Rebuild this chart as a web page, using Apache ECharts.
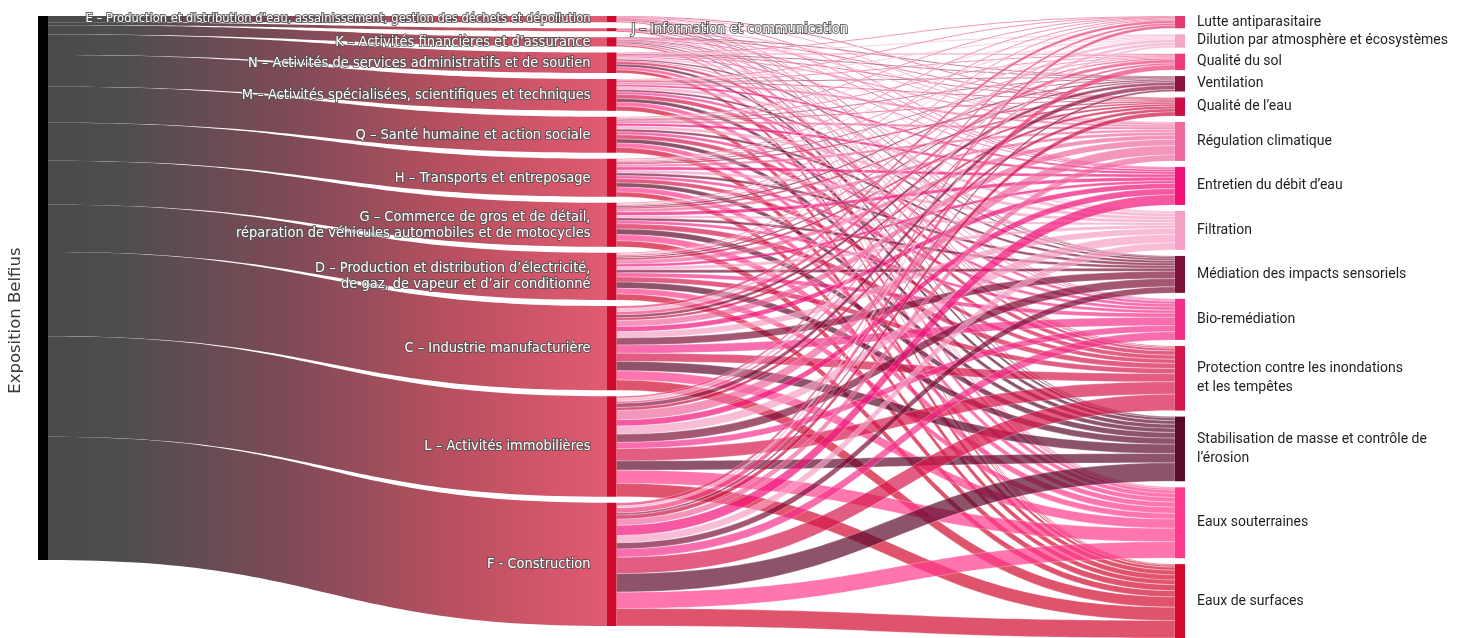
<!DOCTYPE html>
<html>
<head>
<meta charset="utf-8">
<script src="https://cdn.jsdelivr.net/npm/echarts@6/dist/echarts.min.js"></script>
<style>
  html, body { margin: 0; padding: 0; background: #fff; }
  #chart { width: 1474px; height: 638px; }
</style>
</head>
<body>
<div id="chart"></div>
<script>
// Root of the flow
const rootName = 'Exposition Belfius';

// Economic sectors (NACE sections), top to bottom
const sectors = [
  'E – Production et distribution d’eau, assainissement, gestion des déchets et dépollution',
  'J – Information et communication',
  'K – Activités financières et d’assurance',
  'N – Activités de services administratifs et de soutien',
  'M – Activités spécialisées, scientifiques et techniques',
  'Q – Santé humaine et action sociale',
  'H – Transports et entreposage',
  'G – Commerce de gros et de détail,\nréparation de véhicules automobiles et de motocycles',
  'D – Production et distribution d’électricité,\nde gaz, de vapeur et d’air conditionné',
  'C – Industrie manufacturière',
  'L – Activités immobilières',
  'F - Construction'
];

// Ecosystem services, top to bottom
const services = [
  'Lutte antiparasitaire',
  'Dilution par atmosphère et écosystèmes',
  'Qualité du sol',
  'Ventilation',
  'Qualité de l’eau',
  'Régulation climatique',
  'Entretien du débit d’eau',
  'Filtration',
  'Médiation des impacts sensoriels',
  'Bio-remédiation',
  'Protection contre les inondations\net les tempêtes',
  'Stabilisation de masse et contrôle de\nl’érosion',
  'Eaux souterraines',
  'Eaux de surfaces'
];

const serviceColors = [
  '#e63a73', '#f4a6c9', '#ef3a7b', '#8c1240', '#cc0f45', '#f06aa0', '#f2127a',
  '#f6a0c5', '#7c1038', '#f42f8a', '#d5184c', '#5c0a2c', '#ff3a8c', '#d30a2d'
];

// Exposure of each sector to each service (same order as services)
const flowsE = [0, 0, 0, 0, 0.5, 0.5, 0.5, 0.5, 0, 0.5, 1, 0.5, 1, 1];
const flowsJ = [0, 0, 0, 0, 0, 0.5, 0.5, 0, 0.5, 0, 0.5, 0, 0.5, 0.5];
const flowsK = [0, 0, 0, 0.5, 0.5, 0.5, 0.5, 0.5, 0.5, 1, 1, 1, 1.5, 1.5];
const flowsN = [0.5, 0.5, 0.5, 0.5, 0.5, 1.5, 1, 1.5, 1.5, 1, 2.5, 2.5, 3, 3];
const flowsM = [0.5, 0.5, 1, 0.5, 1, 2, 2, 3, 2, 2.5, 4, 3.5, 4, 4.5];
const flowsQ = [0.5, 1, 1, 0.5, 1, 2.5, 2.5, 3, 2.5, 3, 4, 4, 4.5, 5];
const flowsH = [1, 1, 1, 1, 1.5, 2.5, 3, 3, 2.5, 3, 4, 4, 5, 4.5];
const flowsG = [1, 1, 1, 1.5, 1.5, 3, 3.5, 2.5, 2.5, 3, 5, 5.5, 6, 6];
const flowsD = [1, 1, 1.5, 1.5, 2, 4, 2.5, 3, 3, 4, 5, 6, 5.5, 6];
const flowsC = [2.5, 3, 3, 3, 2.5, 6, 5, 6, 7, 8, 8, 9, 9, 10];
const flowsL = [2, 3, 2, 4, 3, 9, 6, 8, 8, 6, 12, 9, 13, 13];
const flowsF = [3, 2, 5, 2, 4, 6, 10, 7, 6, 8, 16, 18, 16, 17];

const flowsBySector = [flowsE, flowsJ, flowsK, flowsN, flowsM, flowsQ,
  flowsH, flowsG, flowsD, flowsC, flowsL, flowsF];

// Sectors whose label sits on the right of their bar
const rightLabelled = ['J – Information et communication'];
// Long sector names set in a tighter size
const tightLabelled = ['E – Production et distribution d’eau, assainissement, gestion des déchets et dépollution'];

const sectorLabel = {
  color: '#ffffff',
  textBorderColor: 'rgba(80,80,80,0.85)',
  textBorderWidth: 2,
  fontFamily: '"Liberation Sans Narrow", "DejaVu Sans Condensed", sans-serif',
  lineHeight: 16
};

const nodes = [];
nodes.push({
  name: rootName,
  itemStyle: { color: '#000000' },
  label: {
    position: [-22, '56%'],
    rotate: 90,
    align: 'center',
    verticalAlign: 'middle',
    color: '#3a3a3a',
    fontFamily: '"DejaVu Sans", sans-serif',
    fontSize: 16.5
  }
});
sectors.forEach(function (s) {
  const right = rightLabelled.indexOf(s) >= 0;
  const tight = tightLabelled.indexOf(s) >= 0;
  nodes.push({
    name: s,
    itemStyle: { color: '#cf0a2c' },
    label: Object.assign({
      position: right ? 'right' : 'left',
      distance: right ? 15 : 16,
      fontSize: tight ? 12.8 : 14.5
    }, sectorLabel)
  });
});
services.forEach(function (s, i) {
  nodes.push({ name: s, itemStyle: { color: serviceColors[i] } });
});

// Grey-to-red fade for the flows leaving the root
const rootFade = new echarts.graphic.LinearGradient(0, 0, 1, 0, [
  { offset: 0, color: '#4a4a4a' },
  { offset: 0.12, color: '#4d4d4d' },
  { offset: 0.42, color: '#7c4a57' },
  { offset: 0.72, color: '#b8505f' },
  { offset: 1, color: '#e25a72' }
]);

const links = [];
sectors.forEach(function (s, i) {
  const total = flowsBySector[i].reduce(function (a, b) { return a + b; }, 0);
  links.push({
    source: rootName, target: s, value: total,
    lineStyle: { color: rootFade, opacity: 1, borderWidth: 0 }
  });
});
sectors.forEach(function (s, i) {
  flowsBySector[i].forEach(function (v, j) {
    if (v > 0) links.push({ source: s, target: services[j], value: v });
  });
});

const chart = echarts.init(document.getElementById('chart'), null, { renderer: 'canvas' });
chart.setOption({
  animation: false,
  series: [{
    type: 'sankey',
    left: 38,
    right: 289,
    top: 16,
    bottom: 0,
    nodeWidth: 10,
    nodeGap: 6,
    layoutIterations: 0,
    draggable: false,
    silent: true,
    emphasis: { disabled: true },
    data: nodes,
    links: links,
    label: {
      position: 'right',
      distance: 12,
      color: '#1f1f1f',
      fontFamily: 'Roboto, sans-serif',
      fontSize: 14,
      lineHeight: 19
    },
    lineStyle: {
      color: 'target',
      opacity: 0.7,
      curveness: 0.5,
      borderColor: 'rgba(255,255,255,0.7)',
      borderWidth: 0.6
    }
  }]
});
</script>
</body>
</html>
